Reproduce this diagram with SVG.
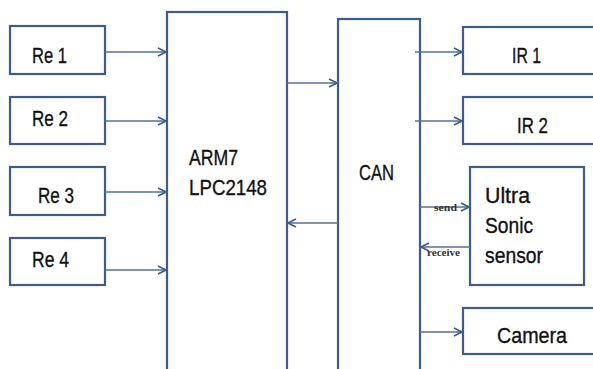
<svg xmlns="http://www.w3.org/2000/svg" width="593" height="369" viewBox="0 0 593 369">
<style>
.box{fill:#fff;stroke:#3b5c8c;stroke-width:2.2}
.t{font-family:"Liberation Sans",Arial,sans-serif;font-size:22.5px;fill:#111;stroke:#111;stroke-width:0.35}
.s{font-family:"Liberation Serif","Times New Roman",serif;font-size:10px;font-weight:bold;fill:#333}
.c{fill:none;stroke:#52709c;stroke-width:1.6}
</style>
<defs>
<marker id="ah" viewBox="0 0 10 10" refX="9" refY="5" markerWidth="10" markerHeight="10" markerUnits="userSpaceOnUse" orient="auto">
<path d="M1,1 L9,5 L1,9" fill="none" stroke="#3b5c8c" stroke-width="1.6"/>
</marker>
</defs>
<rect width="593" height="369" fill="#fff"/>
<g id="re1"><rect class="box" x="10" y="26" width="95" height="48"/><text class="t" x="32" y="63" textLength="35" lengthAdjust="spacingAndGlyphs">Re 1</text></g>
<g id="re2"><rect class="box" x="10" y="97" width="95" height="47"/><text class="t" x="32" y="126" textLength="36" lengthAdjust="spacingAndGlyphs">Re 2</text></g>
<g id="re3"><rect class="box" x="10" y="167" width="95" height="48"/><text class="t" x="38" y="203" textLength="36" lengthAdjust="spacingAndGlyphs">Re 3</text></g>
<g id="re4"><rect class="box" x="10" y="238" width="95" height="47"/><text class="t" x="32" y="267" textLength="37" lengthAdjust="spacingAndGlyphs">Re 4</text></g>
<g id="arm"><rect class="box" x="167" y="12" width="120" height="370"/><text class="t" x="189" y="165" textLength="49" lengthAdjust="spacingAndGlyphs">ARM7</text><text class="t" x="189" y="195" textLength="78" lengthAdjust="spacingAndGlyphs">LPC2148</text></g>
<g id="can"><rect class="box" x="338" y="19" width="82" height="370"/><text class="t" x="359" y="180" textLength="35" lengthAdjust="spacingAndGlyphs">CAN</text></g>
<g id="ir1"><rect class="box" x="463" y="27" width="140" height="47"/><text class="t" x="512" y="63" textLength="29" lengthAdjust="spacingAndGlyphs">IR 1</text></g>
<g id="ir2"><rect class="box" x="463" y="97" width="140" height="47"/><text class="t" x="517" y="133" textLength="31" lengthAdjust="spacingAndGlyphs">IR 2</text></g>
<g id="ultra"><rect class="box" x="470" y="167" width="114" height="118"/><text class="t" x="485" y="203" textLength="45" lengthAdjust="spacingAndGlyphs">Ultra</text><text class="t" x="485" y="233" textLength="48" lengthAdjust="spacingAndGlyphs">Sonic</text><text class="t" x="485" y="263" textLength="58" lengthAdjust="spacingAndGlyphs">sensor</text></g>
<g id="camera"><rect class="box" x="463" y="308" width="140" height="46"/><text class="t" x="497" y="343" textLength="70" lengthAdjust="spacingAndGlyphs">Camera</text></g>
<g id="connectors">
<line class="c" x1="105" y1="52" x2="166" y2="52" marker-end="url(#ah)"/>
<line class="c" x1="105" y1="121" x2="166" y2="121" marker-end="url(#ah)"/>
<line class="c" x1="105" y1="192" x2="166" y2="192" marker-end="url(#ah)"/>
<line class="c" x1="105" y1="270" x2="166" y2="270" marker-end="url(#ah)"/>
<line class="c" x1="287" y1="83" x2="337" y2="83" marker-end="url(#ah)"/>
<line class="c" x1="338" y1="223" x2="288" y2="223" marker-end="url(#ah)"/>
<line class="c" x1="415" y1="52" x2="462" y2="52" marker-end="url(#ah)"/>
<line class="c" x1="415" y1="121" x2="462" y2="121" marker-end="url(#ah)"/>
<line class="c" x1="420" y1="207" x2="469" y2="207" marker-end="url(#ah)"/>
<line class="c" x1="470" y1="247" x2="421" y2="247" marker-end="url(#ah)"/>
<line class="c" x1="420" y1="332" x2="462" y2="332" marker-end="url(#ah)"/>
<text class="s" x="434" y="211" textLength="23" lengthAdjust="spacingAndGlyphs">send</text>
<text class="s" x="427" y="256" textLength="33" lengthAdjust="spacingAndGlyphs">receive</text>
</g>
</svg>
